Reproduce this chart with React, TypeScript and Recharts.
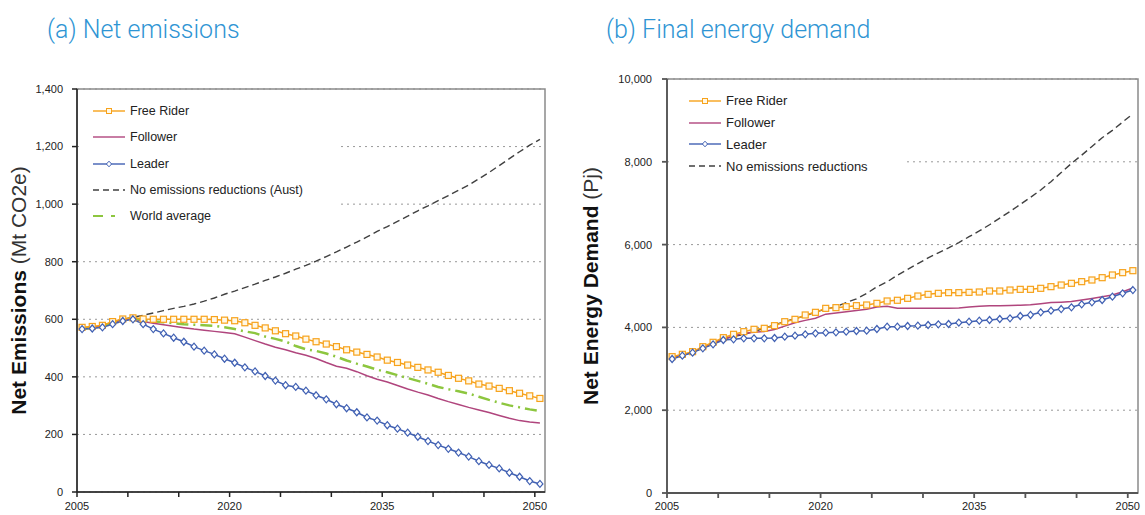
import React from 'react';
import { LineChart, Line, XAxis, YAxis, CartesianGrid, Legend, ReferenceArea } from 'recharts';

// years 2005..2050, one point per year
const YEARS = Array.from({ length: 46 }, (_, i) => 2005 + i);
const LABEL_YEARS = [2005, 2020, 2035, 2050];
const X_TICKS = [2004.5, 2009.5, 2014.5, 2019.5, 2024.5, 2029.5, 2034.5, 2039.5, 2044.5, 2049.5];
const EMIS_TICKS = [0, 200, 400, 600, 800, 1000, 1200, 1400];
const ENERGY_TICKS = [0, 2000, 4000, 6000, 8000, 10000];

// (a) Net emissions, Mt CO2e
const FREE_RIDER_EMIS = [572, 575, 579, 592, 601, 605, 601, 600, 600, 600, 600, 600, 600, 599, 597, 595, 588, 579, 570, 560, 550, 542, 531, 522, 514, 505, 494, 486, 478, 469, 458, 450, 441, 433, 424, 416, 405, 395, 386, 375, 368, 360, 352, 343, 334, 325];
const FOLLOWER_EMIS = [570, 572, 576, 588, 598, 603, 592, 586, 581, 576, 571, 566, 562, 558, 554, 550, 538, 526, 514, 503, 494, 484, 475, 464, 450, 437, 430, 418, 404, 392, 382, 370, 358, 347, 337, 325, 314, 304, 294, 285, 276, 266, 256, 248, 243, 240];
const LEADER_EMIS = [566, 568, 572, 583, 594, 600, 583, 566, 551, 536, 522, 505, 491, 478, 463, 449, 433, 419, 403, 387, 371, 365, 352, 336, 322, 305, 291, 277, 259, 248, 232, 220, 206, 192, 177, 163, 150, 137, 123, 107, 94, 82, 67, 53, 38, 28];
const NO_CUT_EMIS = [570, 573, 577, 590, 600, 607, 614, 622, 630, 638, 645, 653, 663, 674, 687, 698, 710, 722, 735, 747, 760, 774, 787, 802, 818, 834, 851, 868, 886, 905, 922, 940, 958, 977, 994, 1012, 1030, 1048, 1066, 1088, 1110, 1134, 1158, 1182, 1205, 1225];
const WORLD_EMIS = [567, 570, 575, 588, 598, 604, 598, 593, 590, 586, 583, 581, 579, 577, 572, 566, 558, 552, 540, 532, 523, 507, 496, 490, 481, 470, 457, 446, 436, 425, 416, 406, 396, 386, 376, 365, 357, 350, 342, 331, 320, 310, 301, 294, 287, 281];

// (b) Final energy demand, PJ
const FREE_RIDER_ENERGY = [3293, 3350, 3414, 3534, 3640, 3752, 3833, 3897, 3954, 3978, 4042, 4138, 4195, 4300, 4364, 4460, 4477, 4501, 4525, 4541, 4581, 4638, 4655, 4702, 4758, 4799, 4823, 4839, 4839, 4847, 4855, 4879, 4879, 4903, 4919, 4919, 4944, 4984, 5024, 5065, 5105, 5145, 5201, 5266, 5322, 5370];
const FOLLOWER_ENERGY = [3270, 3330, 3400, 3510, 3610, 3720, 3790, 3860, 3885, 3900, 3950, 4030, 4110, 4170, 4220, 4320, 4350, 4380, 4410, 4440, 4490, 4510, 4460, 4460, 4460, 4460, 4460, 4460, 4470, 4490, 4510, 4520, 4525, 4530, 4535, 4545, 4570, 4600, 4610, 4625, 4660, 4700, 4740, 4785, 4860, 4950];
const LEADER_ENERGY = [3237, 3317, 3390, 3494, 3591, 3696, 3712, 3736, 3736, 3736, 3744, 3776, 3800, 3833, 3857, 3873, 3881, 3897, 3913, 3921, 3961, 4017, 4017, 4034, 4042, 4058, 4074, 4082, 4114, 4138, 4162, 4179, 4203, 4219, 4275, 4300, 4364, 4404, 4444, 4485, 4557, 4606, 4662, 4742, 4823, 4903];
const NO_CUT_ENERGY = [3270, 3330, 3400, 3510, 3610, 3720, 3780, 3830, 3900, 3980, 4060, 4140, 4210, 4280, 4370, 4440, 4500, 4600, 4690, 4820, 4980, 5100, 5260, 5400, 5540, 5680, 5800, 5920, 6050, 6190, 6330, 6480, 6640, 6800, 6970, 7140, 7320, 7520, 7740, 7960, 8160, 8370, 8580, 8760, 8960, 9160];

const ORANGE = '#f7a21b';
const PURPLE = '#b0457d';
const BLUE = '#4161b3';
const DARK = '#404040';
const GREEN = '#8dc63f';
const TITLE_BLUE = '#2f95d4';
const FONT = '"Liberation Sans", Arial, sans-serif';

const emissionsData = YEARS.map((year, i) => ({
  year,
  freeRider: FREE_RIDER_EMIS[i],
  follower: FOLLOWER_EMIS[i],
  leader: LEADER_EMIS[i],
  noCut: NO_CUT_EMIS[i],
  world: WORLD_EMIS[i],
}));

const energyData = YEARS.map((year, i) => ({
  year,
  freeRider: FREE_RIDER_ENERGY[i],
  follower: FOLLOWER_ENERGY[i],
  leader: LEADER_ENERGY[i],
  noCut: NO_CUT_ENERGY[i],
}));

type Series = { key: string; name: string; color: string; width: number; dash?: string; legendDash?: string; marker?: 'square' | 'diamond' };

const FREE_RIDER: Series = { key: 'freeRider', name: 'Free Rider', color: ORANGE, width: 1.5, marker: 'square' };
const FOLLOWER: Series = { key: 'follower', name: 'Follower', color: PURPLE, width: 1.5 };
const LEADER: Series = { key: 'leader', name: 'Leader', color: BLUE, width: 1.5, marker: 'diamond' };
const WORLD: Series = { key: 'world', name: 'World average', color: GREEN, width: 2.5, dash: '12 5 2 5', legendDash: '10 8 4 20' };

const SquareDot = (props: any) => {
  const { cx, cy, index } = props;
  if (cx == null || cy == null) return <g key={`sq-${index}`} />;
  return <rect key={`sq-${index}`} x={cx - 3} y={cy - 3} width={6} height={6} fill="#fff8e6" stroke={ORANGE} strokeWidth={1.2} />;
};

const DiamondDot = (props: any) => {
  const { cx, cy, index } = props;
  if (cx == null || cy == null) return <g key={`dm-${index}`} />;
  return (
    <path key={`dm-${index}`} d={`M${cx},${cy - 3.5} L${cx + 3},${cy} L${cx},${cy + 3.5} L${cx - 3},${cy} Z`}
      fill="#fff" stroke={BLUE} strokeWidth={1.2} />
  );
};

const LegendIcon = ({ s }: { s: Series }) => (
  <svg width={34} height={10} style={{ display: 'block', flex: 'none' }}>
    <line x1={1} y1={5} x2={33} y2={5} stroke={s.color} strokeWidth={s.key === 'world' ? 2 : 1.4} strokeDasharray={s.legendDash || s.dash} />
    {s.marker === 'square' && <rect x={14.5} y={2.5} width={5} height={5} fill="#fff8e6" stroke={s.color} strokeWidth={1} />}
    {s.marker === 'diamond' && <path d="M17,2.2 L19.6,5 L17,7.8 L14.4,5 Z" fill="#fff" stroke={s.color} strokeWidth={1} />}
  </svg>
);

const LegendBox = ({ items, rowH, fontSize, padLeft }: { items: Series[]; rowH: number; fontSize: number; padLeft: number }) => (
  <div style={{ paddingLeft: padLeft, fontFamily: FONT, fontSize, color: '#222' }}>
    {items.map((s) => (
      <div key={s.key} style={{ display: 'flex', alignItems: 'center', height: rowH, gap: 4, whiteSpace: 'nowrap' }}>
        <LegendIcon s={s} />
        <span>{s.name}</span>
      </div>
    ))}
  </div>
);

const yLabel = (bold: string, rest: string, offsetX: number) => (p: any) => {
  const vb = p.viewBox || { x: 0, y: 0, width: 0, height: 0 };
  const cx = vb.x + offsetX;
  const cy = vb.y + vb.height / 2;
  return (
    <text x={cx} y={cy} transform={`rotate(-90, ${cx}, ${cy})`} textAnchor="middle" dominantBaseline="central"
      fontFamily={FONT} fontSize={21} fill="#111" style={{ whiteSpace: 'pre' }}>
      <tspan fontWeight="bold">{bold}</tspan>
      <tspan fill="#333">{' ' + rest}</tspan>
    </text>
  );
};

const xTick = (v: number) => {
  const y = v + 0.5;
  return LABEL_YEARS.includes(y) ? String(y) : '';
};

const renderLine = (s: Series) => (
  <Line
    key={s.key}
    type="linear"
    dataKey={s.key}
    name={s.name}
    stroke={s.color}
    strokeWidth={s.width}
    strokeDasharray={s.dash}
    dot={s.marker === 'square' ? SquareDot : s.marker === 'diamond' ? DiamondDot : false}
    activeDot={false}
    isAnimationActive={false}
  />
);

const Title = ({ text, left }: { text: string; left: number }) => (
  <div style={{ position: 'absolute', left, top: 15, fontFamily: 'Roboto, "Liberation Sans", sans-serif', fontWeight: 300, fontSize: 25, lineHeight: '30px', color: TITLE_BLUE, whiteSpace: 'nowrap' }}>
    {text}
  </div>
);

export default function App() {
  const noCutEmis: Series = { key: 'noCut', name: 'No emissions reductions (Aust)', color: DARK, width: 1.4, dash: '7 4', legendDash: '6 4' };
  const noCutEnergy: Series = { key: 'noCut', name: 'No emissions reductions', color: DARK, width: 1.4, dash: '7 4', legendDash: '6 4' };
  const tickStyle = { fontSize: 11, fill: '#222', fontFamily: FONT };

  return (
    <div style={{ position: 'absolute', left: 0, top: 0, width: 1145, height: 515, background: '#fff', overflow: 'hidden' }}>
      <Title text="(a) Net emissions" left={47} />
      <Title text="(b) Final energy demand" left={606} />

      <div style={{ position: 'absolute', left: 0, top: 0 }}>
        <LineChart width={560} height={515} data={emissionsData} margin={{ top: 89, right: 15, bottom: 3, left: 0 }}>
          <CartesianGrid vertical={false} stroke="#999" strokeDasharray="2 4" />
          <ReferenceArea x1={2004.5} x2={2050.5} y1={0} y2={1400} fill="none" stroke="#8a8a8a" strokeWidth={1.5} />
          <XAxis dataKey="year" type="number" domain={[2004.5, 2050.5]} ticks={X_TICKS} tickFormatter={xTick}
            height={20} tickSize={5} tickMargin={5} tick={tickStyle} stroke="#222" strokeWidth={1.5} interval={0} />
          <YAxis type="number" domain={[0, 1400]} ticks={EMIS_TICKS} width={77} tickSize={5} tickMargin={9}
            tick={tickStyle} stroke="#222" strokeWidth={1.5} interval={0}
            tickFormatter={(v: number) => v.toLocaleString('en-US')}
            label={{ content: yLabel('Net Emissions', '(Mt CO2e)', 18) }} />
          <Legend layout="vertical" align="center" verticalAlign="middle"
            wrapperStyle={{ left: 79, top: 98, width: 258, height: 138, backgroundColor: '#fff' }}
            content={() => <LegendBox items={[FREE_RIDER, FOLLOWER, LEADER, noCutEmis, WORLD]} rowH={26.3} fontSize={12.5} padLeft={13} />} />
          {[noCutEmis, FOLLOWER, WORLD, FREE_RIDER, LEADER].map(renderLine)}
        </LineChart>
      </div>

      <div style={{ position: 'absolute', left: 570, top: 0 }}>
        <LineChart width={575} height={515} data={energyData} margin={{ top: 79, right: 7, bottom: 2, left: 0 }}>
          <CartesianGrid vertical={false} stroke="#999" strokeDasharray="2 4" />
          <ReferenceArea x1={2004.5} x2={2050.5} y1={0} y2={10000} fill="none" stroke="#8a8a8a" strokeWidth={1.5} />
          <XAxis dataKey="year" type="number" domain={[2004.5, 2050.5]} ticks={X_TICKS} tickFormatter={xTick}
            height={20} tickSize={5} tickMargin={4} tick={tickStyle} stroke="#555" strokeWidth={1.8} interval={0} />
          <YAxis type="number" domain={[0, 10000]} ticks={ENERGY_TICKS} width={97} tickSize={5} tickMargin={10}
            tick={tickStyle} stroke="#555" strokeWidth={1.8} interval={0}
            tickFormatter={(v: number) => v.toLocaleString('en-US')}
            label={{ content: yLabel('Net Energy Demand', '(Pj)', 20) }} />
          <Legend layout="vertical" align="center" verticalAlign="middle"
            wrapperStyle={{ left: 99, top: 90, width: 236, height: 88, backgroundColor: '#fff' }}
            content={() => <LegendBox items={[FREE_RIDER, FOLLOWER, LEADER, noCutEnergy]} rowH={21.8} fontSize={13} padLeft={19} />} />
          {[noCutEnergy, FOLLOWER, FREE_RIDER, LEADER].map(renderLine)}
        </LineChart>
      </div>
    </div>
  );
}
